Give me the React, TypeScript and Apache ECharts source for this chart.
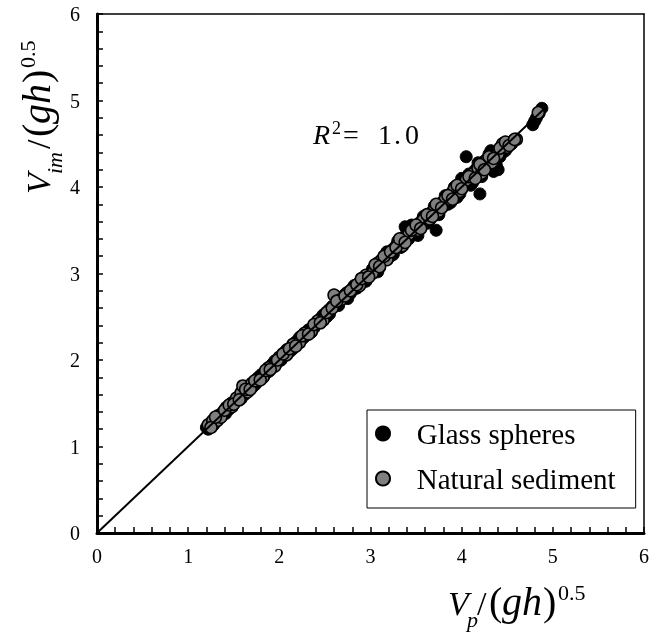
import React, { useEffect, useRef } from "react";
import * as echarts from "echarts";

const seriesNames = ["Glass spheres", "Natural sediment"];

const glassSpheres: [number, number][] = [
  [1.2, 1.22], [1.24, 1.27], [1.28, 1.25], [1.33, 1.36], [1.38, 1.4], [1.45, 1.43],
  [1.5, 1.52], [1.55, 1.57], [1.62, 1.6], [1.68, 1.71], [1.74, 1.72], [1.8, 1.83],
  [1.86, 1.85], [1.92, 1.95], [1.98, 1.97], [2.05, 2.08], [2.12, 2.1], [2.18, 2.21],
  [2.25, 2.24], [2.32, 2.35], [2.38, 2.37], [2.45, 2.48], [2.52, 2.5], [2.58, 2.62],
  [2.65, 2.63], [2.72, 2.76], [2.78, 2.77], [2.85, 2.83], [2.92, 2.95], [2.98, 2.96],
  [3.05, 3.08], [3.1, 3.07], [3.15, 3.19], [3.22, 3.2], [3.28, 3.32], [3.33, 3.3],
  [3.38, 3.54], [3.45, 3.56], [3.5, 3.47], [3.55, 3.6], [3.62, 3.58], [3.68, 3.72],
  [3.72, 3.5], [3.78, 3.82], [3.85, 3.8], [3.9, 3.95], [3.95, 3.88], [4.02, 4.05],
  [4.05, 4.35], [4.1, 4.02], [4.15, 4.2], [4.2, 3.92], [4.25, 4.3], [4.3, 4.38],
  [4.35, 4.18], [4.38, 4.25], [4.42, 4.35], [4.45, 4.4], [4.52, 4.48], [4.78, 4.72],
  [4.82, 4.8], [4.88, 4.91],
  [1.22, 1.2], [1.3, 1.33], [1.41, 1.38], [1.47, 1.5], [1.58, 1.55], [1.65, 1.68],
  [1.71, 1.69], [1.77, 1.8], [1.83, 1.81], [1.89, 1.87], [1.95, 1.99], [2.02, 2.0],
  [2.08, 2.12], [2.15, 2.13], [2.22, 2.26], [2.28, 2.27], [2.35, 2.32], [2.42, 2.44],
  [2.48, 2.52], [2.55, 2.53], [2.62, 2.66], [2.68, 2.72], [2.75, 2.71], [2.82, 2.86],
  [2.88, 2.9], [2.95, 2.91], [3.02, 3.05], [3.08, 3.02], [3.12, 3.16], [3.18, 3.25],
  [3.25, 3.22], [3.3, 3.38], [3.36, 3.42], [3.42, 3.4], [3.48, 3.55], [3.52, 3.44],
  [3.58, 3.66], [3.65, 3.62], [3.7, 3.78], [3.75, 3.68], [3.82, 3.9], [3.88, 3.82],
  [3.92, 4.0], [3.98, 3.92], [4.0, 4.1], [4.08, 4.15], [4.12, 4.05], [4.18, 4.28],
  [4.22, 4.12], [4.28, 4.22], [4.32, 4.42], [4.36, 4.3], [4.4, 4.2], [4.48, 4.42],
  [4.55, 4.5], [4.8, 4.76], [4.85, 4.85]
];

const naturalSediment: [number, number][] = [
  [1.22, 1.25], [1.27, 1.3], [1.32, 1.3], [1.36, 1.34], [1.42, 1.45], [1.48, 1.46],
  [1.53, 1.56], [1.58, 1.62], [1.6, 1.7], [1.65, 1.63], [1.7, 1.73], [1.76, 1.78],
  [1.82, 1.8], [1.88, 1.91], [1.95, 1.93], [2.0, 2.03], [2.08, 2.06], [2.15, 2.18],
  [2.22, 2.2], [2.28, 2.31], [2.35, 2.33], [2.42, 2.45], [2.48, 2.46], [2.55, 2.58],
  [2.6, 2.75], [2.68, 2.7], [2.75, 2.78], [2.8, 2.82], [2.88, 2.86], [2.95, 2.98],
  [3.02, 3.0], [3.08, 3.12], [3.12, 3.15], [3.18, 3.16], [3.25, 3.28], [3.3, 3.35],
  [3.35, 3.32], [3.42, 3.45], [3.48, 3.52], [3.52, 3.5], [3.58, 3.62], [3.65, 3.63],
  [3.7, 3.74], [3.75, 3.72], [3.82, 3.86], [3.88, 3.85], [3.92, 3.98], [3.98, 3.95],
  [4.05, 4.08], [4.12, 4.15], [4.18, 4.22], [4.22, 4.16], [4.28, 4.32], [4.33, 4.28],
  [4.4, 4.38], [4.45, 4.5], [4.5, 4.46], [4.55, 4.52], [4.6, 4.55], [4.84, 4.86],
  [1.25, 1.22], [1.3, 1.34], [1.4, 1.42], [1.45, 1.48], [1.5, 1.49], [1.56, 1.54],
  [1.63, 1.66], [1.68, 1.66], [1.73, 1.76], [1.79, 1.77], [1.85, 1.88], [1.9, 1.89],
  [1.98, 2.0], [2.04, 2.07], [2.11, 2.13], [2.18, 2.16], [2.25, 2.28], [2.32, 2.3],
  [2.38, 2.41], [2.45, 2.43], [2.52, 2.55], [2.58, 2.6], [2.63, 2.68], [2.72, 2.74],
  [2.78, 2.8], [2.85, 2.87], [2.9, 2.94], [2.98, 2.96], [3.05, 3.1], [3.1, 3.08],
  [3.15, 3.2], [3.22, 3.25], [3.28, 3.3], [3.32, 3.4], [3.38, 3.36], [3.45, 3.5],
  [3.5, 3.56], [3.55, 3.52], [3.62, 3.68], [3.68, 3.66], [3.72, 3.8], [3.78, 3.76],
  [3.85, 3.9], [3.9, 3.86], [3.95, 4.02], [4.0, 3.98], [4.08, 4.12], [4.15, 4.1],
  [4.2, 4.26], [4.25, 4.2], [4.3, 4.35], [4.35, 4.33], [4.42, 4.45], [4.48, 4.52],
  [4.52, 4.48], [4.58, 4.55]
];

const fitLine: [number, number][] = [[0, 0], [4.9, 4.9]];

const FAM = "Liberation Serif";

function hText(text: string, x: number, base: number, size: number, italic = false) {
  return {
    type: "text",
    x,
    y: base - 0.34 * size,
    style: {
      text,
      fontFamily: FAM,
      fontSize: size,
      fontStyle: italic ? "italic" : "normal",
      fill: "#000",
      textAlign: "left",
      textVerticalAlign: "middle",
    },
  };
}

function vText(text: string, ox: number, oy: number, lx: number, base: number, size: number, italic = false) {
  return {
    type: "text",
    x: ox + base - 0.34 * size,
    y: oy - lx,
    rotation: Math.PI / 2,
    style: {
      text,
      fontFamily: FAM,
      fontSize: size,
      fontStyle: italic ? "italic" : "normal",
      fill: "#000",
      textAlign: "left",
      textVerticalAlign: "middle",
    },
  };
}

export default function App() {
  const ref = useRef<HTMLDivElement>(null);
  useEffect(() => {
    if (!ref.current) return;
    const chart = echarts.init(ref.current, null, { renderer: "svg" });
    const YX = 50;
    const YY = 194;
    chart.setOption({
      animation: false,
      grid: { left: 97, top: 14, right: 2, bottom: 102 },
      xAxis: [
        {
          type: "value", min: 0, max: 6, interval: 1, position: "bottom",
          axisLine: { show: true, onZero: false, lineStyle: { color: "#000", width: 3 } },
          axisTick: { show: true, inside: true, length: 6, lineStyle: { color: "#000", width: 1.5 } },
          minorTick: { show: true, splitNumber: 5, length: 6, lineStyle: { color: "#000", width: 1.5 } },
          splitLine: { show: false },
          axisLabel: { color: "#000", fontSize: 20, fontFamily: FAM, margin: 13 },
        },
        {
          type: "value", min: 0, max: 6, interval: 1, position: "top",
          axisLine: { show: true, onZero: false, lineStyle: { color: "#000", width: 1.5 } },
          axisTick: { show: false }, minorTick: { show: false },
          splitLine: { show: false }, axisLabel: { show: false },
        },
      ],
      yAxis: [
        {
          type: "value", min: 0, max: 6, interval: 1, position: "left",
          axisLine: { show: true, onZero: false, lineStyle: { color: "#000", width: 3 } },
          axisTick: { show: true, inside: true, length: 6, lineStyle: { color: "#000", width: 1.5 } },
          minorTick: { show: true, splitNumber: 5, length: 6, lineStyle: { color: "#000", width: 1.5 } },
          splitLine: { show: false },
          axisLabel: { color: "#000", fontSize: 20, fontFamily: FAM, margin: 17 },
        },
        {
          type: "value", min: 0, max: 6, interval: 1, position: "right",
          axisLine: { show: true, onZero: false, lineStyle: { color: "#000", width: 1.5 } },
          axisTick: { show: false }, minorTick: { show: false },
          splitLine: { show: false }, axisLabel: { show: false },
        },
      ],
      legend: {
        data: seriesNames,
        orient: "vertical",
        left: 367,
        top: 410,
        padding: [9, 20, 15, 8],
        itemWidth: 14,
        itemHeight: 14,
        itemGap: 16,
        borderColor: "#000",
        borderWidth: 1,
        formatter: (name: string) => "   " + name,
        textStyle: { color: "#000", fontSize: 29, fontFamily: FAM },
      },
      series: [
        {
          name: "fit", type: "line", data: fitLine, symbol: "none",
          lineStyle: { color: "#000", width: 2 },
        },
        {
          name: seriesNames[0], type: "scatter", data: glassSpheres, symbolSize: 12,
          itemStyle: { color: "#000", borderColor: "#000", borderWidth: 1, opacity: 1 },
        },
        {
          name: seriesNames[1], type: "scatter", data: naturalSediment, symbolSize: 12,
          itemStyle: { color: "#7f7f7f", borderColor: "#000", borderWidth: 1.5, opacity: 1 },
        },
      ],
      graphic: [
        hText("V", 448, 615, 34, true),
        hText("p", 467, 627, 22, true),
        hText("/", 477, 615, 34),
        hText("(", 489, 615, 40),
        hText("gh", 502, 615, 40, true),
        hText(")", 543, 615, 40),
        hText("0.5", 558, 600, 22),

        vText("V", YX, YY, 0, 0, 34, true),
        vText("im", YX, YY, 20, 12, 22, true),
        vText("/", YX, YY, 45, 0, 34),
        vText("(", YX, YY, 57, 0, 40),
        vText("gh", YX, YY, 70, 0, 40, true),
        vText(")", YX, YY, 111, 0, 40),
        vText("0.5", YX, YY, 126, -15, 22),

        hText("R", 313, 144, 28, true),
        hText("2", 332, 134, 18),
        hText("=", 343, 144, 28),
        hText("1", 378, 144, 28),
        hText(".", 394, 144, 28),
        hText("0", 405, 144, 28),
      ],
    });
    return () => chart.dispose();
  }, []);
  return <div ref={ref} style={{ position: "fixed", left: 0, top: 0, width: 652, height: 635 }} />;
}
